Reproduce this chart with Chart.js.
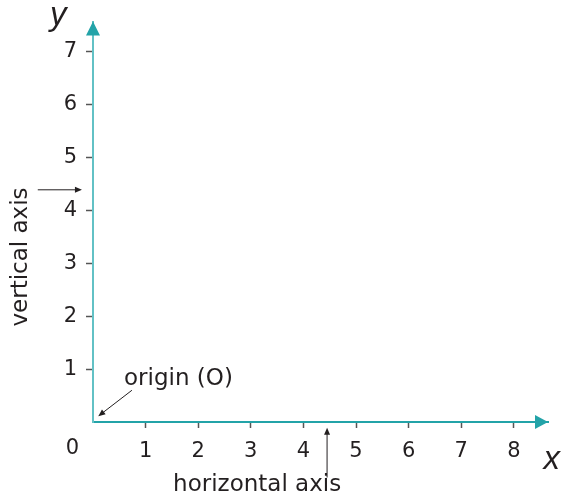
<!DOCTYPE html>
<html>
<head>
<meta charset="utf-8">
<script src="https://cdn.jsdelivr.net/npm/chart.js@4"></script>
<style>
  html, body { margin: 0; padding: 0; background: #fff; }
  #axes { display: block; }
</style>
</head>
<body>
<canvas id="axes" width="562" height="501"></canvas>
<script>
/* Cartesian axes diagram */

const X_MAX = 8.65;
const Y_MAX = 7.57;
const xTicks = [1, 2, 3, 4, 5, 6, 7, 8];
const yTicks = [1, 2, 3, 4, 5, 6, 7];
const originLabel = '0';
const axisNames = { x: 'x', y: 'y' };

// annotations in data units: [x, y]
const originNote = { text: 'origin (O)', at: [0.59, 0.82], from: [0.74, 0.60], to: [0.10, 0.11] };
const verticalNote = { text: 'vertical axis', at: [-1.37, 3.12], from: [-1.05, 4.39], to: [-0.21, 4.39] };
const horizontalNote = { text: 'horizontal axis', at: [3.12, -1.19], from: [4.45, -1.05], to: [4.45, -0.11] };
const axisNamePos = { x: [8.72, -0.88], y: [-0.66, 7.5] };

const TEAL = '#23a3a8';
const TEAL_LIGHT = '#62c1c5';
const INK = '#231f20';
const FONT = '"DejaVu Sans", Verdana, sans-serif';
const ITALIC_FONT = '"Liberation Sans", Arial, sans-serif';

function arrow(ctx, x1, y1, x2, y2, len, half, color, lw) {
  const a = Math.atan2(y2 - y1, x2 - x1);
  ctx.save();
  ctx.strokeStyle = color; ctx.fillStyle = color; ctx.lineWidth = lw;
  ctx.beginPath();
  ctx.moveTo(x1, y1);
  ctx.lineTo(x2 - Math.cos(a) * len * 0.8, y2 - Math.sin(a) * len * 0.8);
  ctx.stroke();
  ctx.beginPath();
  ctx.moveTo(x2, y2);
  ctx.lineTo(x2 - Math.cos(a) * len - Math.sin(a) * half, y2 - Math.sin(a) * len + Math.cos(a) * half);
  ctx.lineTo(x2 - Math.cos(a) * len + Math.sin(a) * half, y2 - Math.sin(a) * len - Math.cos(a) * half);
  ctx.closePath();
  ctx.fill();
  ctx.restore();
}

const decorations = {
  id: 'decorations',
  afterDraw(chart) {
    const { ctx, chartArea: ca, scales: { x, y } } = chart;
    const px = v => x.getPixelForValue(v);
    const py = v => y.getPixelForValue(v);
    const ox = px(0), oy = py(0);

    // axis arrowheads
    ctx.save();
    ctx.fillStyle = TEAL;
    ctx.beginPath();
    ctx.moveTo(ox, ca.top);
    ctx.lineTo(ox - 7, ca.top + 14);
    ctx.lineTo(ox + 7, ca.top + 14);
    ctx.closePath();
    ctx.fill();
    ctx.beginPath();
    ctx.moveTo(ca.right, oy);
    ctx.lineTo(ca.right - 13, oy - 7);
    ctx.lineTo(ca.right - 13, oy + 7);
    ctx.closePath();
    ctx.fill();
    ctx.restore();

    ctx.save();
    ctx.fillStyle = INK;
    // origin "0"
    ctx.font = '21px ' + FONT;
    ctx.textAlign = 'right';
    ctx.textBaseline = 'middle';
    ctx.fillText(originLabel, ox - 14, oy + 27);

    // axis names
    ctx.font = 'italic 33px ' + ITALIC_FONT;
    ctx.textAlign = 'center';
    ctx.textBaseline = 'alphabetic';
    ctx.fillText(axisNames.y, px(axisNamePos.y[0]), py(axisNamePos.y[1]));
    ctx.fillText(axisNames.x, px(axisNamePos.x[0]), py(axisNamePos.x[1]));

    // notes
    ctx.font = '23px ' + FONT;
    ctx.textBaseline = 'middle';
    ctx.textAlign = 'left';
    ctx.fillText(originNote.text, px(originNote.at[0]), py(originNote.at[1]));
    ctx.textAlign = 'center';
    ctx.fillText(horizontalNote.text, px(horizontalNote.at[0]), py(horizontalNote.at[1]));
    ctx.save();
    ctx.translate(px(verticalNote.at[0]), py(verticalNote.at[1]));
    ctx.rotate(-Math.PI / 2);
    ctx.fillText(verticalNote.text, 0, 0);
    ctx.restore();
    ctx.restore();

    [originNote, verticalNote, horizontalNote].forEach(n => {
      arrow(ctx, px(n.from[0]), py(n.from[1]), px(n.to[0]), py(n.to[1]), 7, 3, INK, 1);
    });
  }
};

const tickFont = { family: FONT, size: 21 };

new Chart(document.getElementById('axes'), {
  type: 'scatter',
  data: { datasets: [{ data: [] }] },
  options: {
    responsive: false,
    animation: false,
    layout: { padding: { left: 0, top: 16, right: 14, bottom: 0 } },
    plugins: { legend: { display: false }, tooltip: { enabled: false } },
    scales: {
      x: {
        type: 'linear', min: 0, max: X_MAX,
        afterFit: s => { s.height = 79; },
        afterBuildTicks: s => { s.ticks = [0].concat(xTicks).map(v => ({ value: v })); },
        border: { display: true, color: TEAL, width: 2 },
        grid: { drawOnChartArea: false, drawTicks: true, tickLength: 6, tickWidth: 1.5,
                tickColor: c => (c.tick && c.tick.value === 0) ? 'rgba(0,0,0,0)' : '#555' },
        ticks: { font: tickFont, color: INK, padding: 11, maxRotation: 0, autoSkip: false,
                 callback: v => v === 0 ? '' : String(v) }
      },
      y: {
        type: 'linear', min: 0, max: Y_MAX,
        afterFit: s => { s.width = 93; },
        afterBuildTicks: s => { s.ticks = [0].concat(yTicks).map(v => ({ value: v })); },
        border: { display: true, color: TEAL_LIGHT, width: 2 },
        grid: { drawOnChartArea: false, drawTicks: true, tickLength: 7, tickWidth: 1.5,
                tickColor: c => (c.tick && c.tick.value === 0) ? 'rgba(0,0,0,0)' : '#555' },
        ticks: { font: tickFont, color: INK, padding: 9, autoSkip: false,
                 callback: v => v === 0 ? '' : String(v) }
      }
    }
  },
  plugins: [decorations]
});
</script>
</body>
</html>
